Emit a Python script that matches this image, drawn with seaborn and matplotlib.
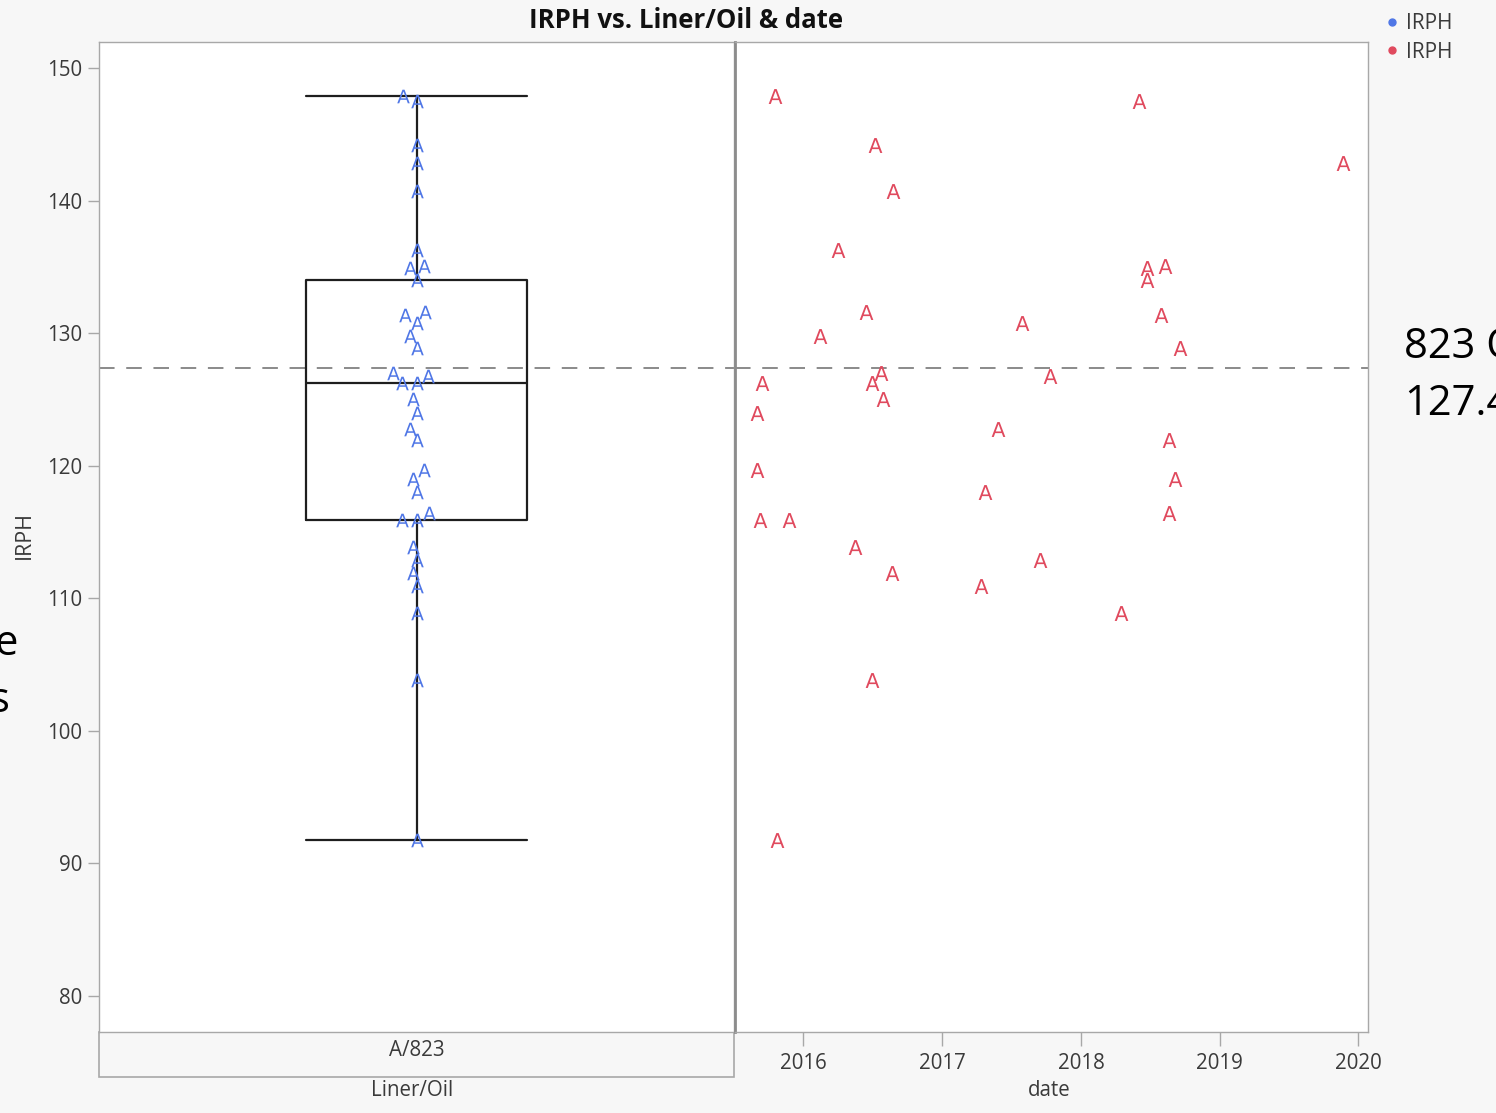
import numpy as np
import pandas as pd
import seaborn as sns
import matplotlib.pyplot as plt
import matplotlib.dates as mdates
from matplotlib.patches import Rectangle
from matplotlib.lines import Line2D

# ---- data -------------------------------------------------------------
dates = [
    "2015-10-19", "2016-07-09", "2016-08-25", "2016-04-01", "2016-02-14",
    "2016-06-13", "2015-09-13", "2015-09-02", "2015-09-02", "2015-09-09",
    "2015-11-24", "2016-05-15", "2016-08-22", "2016-07-01", "2015-10-23",
    "2016-07-01", "2016-07-23", "2016-07-30", "2017-05-27", "2017-04-23",
    "2017-04-13", "2017-07-31", "2017-10-12", "2017-09-16", "2018-04-16",
    "2018-06-03", "2018-06-25", "2018-06-25", "2018-08-11", "2018-07-31",
    "2018-09-20", "2018-08-22", "2018-09-06", "2018-08-22", "2019-11-21",
]
irph = [
    147.9, 144.2, 140.7, 136.3, 129.8,
    131.6, 126.2, 124.0, 119.7, 115.9,
    115.9, 113.9, 111.9, 103.8, 91.8,
    126.2, 127.0, 125.0, 122.8, 118.0,
    110.9, 130.8, 126.8, 112.9, 108.9,
    147.5, 134.9, 134.0, 135.1, 131.4,
    128.9, 121.9, 119.0, 116.4, 142.8,
]
liner_oil = "A/823"
reference_irph = 127.4
y_ticks = [80, 90, 100, 110, 120, 130, 140, 150]

df = pd.DataFrame({
    "date": pd.to_datetime(dates),
    "IRPH": irph,
    "Liner/Oil": liner_oil,
})

# ---- style ------------------------------------------------------------
sns.set_theme(style="white")
plt.rcParams["font.family"] = ["Open Sans", "DejaVu Sans"]
plt.rcParams["mathtext.default"] = "regular"

BG = "#f7f7f7"
FRAME = "#a8a8a8"
TXT = "#3a3a3a"
BLUE = "#5077e6"
RED = "#e04a5e"
A_MARK = r"$\mathsf{A}$"
FS = 14.8

W, H = 1496, 1113
fig = plt.figure(figsize=(W / 100, H / 100), dpi=100, facecolor=BG)

def fx(px):
    return px / W

def fy(py):
    return 1 - py / H

ax_l = fig.add_axes([fx(99), fy(1032), fx(734) - fx(99), fy(42) - fy(1032)])
ax_r = fig.add_axes([fx(735), fy(1032), fx(1368) - fx(735), fy(42) - fy(1032)],
                    sharey=ax_l)
for ax in (ax_l, ax_r):
    ax.set_facecolor("white")
    for s in ax.spines.values():
        s.set_color(FRAME)
        s.set_linewidth(1.0)

# ---- left panel: box plot + swarm of IRPH ------------------------------
vals = np.asarray(irph)
q1, med, q3 = np.percentile(vals, [25, 50, 75], method="weibull")
iqr = q3 - q1
lo = vals[vals >= q1 - 1.5 * iqr].min()
hi = vals[vals <= q3 + 1.5 * iqr].max()
box_w = 0.3465
line_kw = dict(color="#1e1e1e", linewidth=1.6)
ax_l.bxp([dict(med=med, q1=q1, q3=q3, whislo=lo, whishi=hi, fliers=[])],
         positions=[0], widths=box_w, capwidths=[box_w], showfliers=False,
         manage_ticks=False, boxprops=line_kw, whiskerprops=line_kw,
         capprops=line_kw, medianprops=line_kw, zorder=2)

sns.swarmplot(data=df, x="Liner/Oil", y="IRPH", marker=A_MARK, color=BLUE,
              size=9.8, linewidth=0, ax=ax_l, zorder=3)
ax_l.set_xlim(-0.5, 0.5)
ax_l.axhline(reference_irph, color="#8a8a8a", lw=1.4, dashes=(8, 6), zorder=1)

ax_l.set_ylim(77.28, 151.96)
ax_l.set_yticks(y_ticks)
ax_l.tick_params(axis="y", which="both", left=True, length=8, width=1,
                 color=FRAME, labelsize=FS, labelcolor=TXT, pad=4)
ax_l.tick_params(axis="x", length=0, labelsize=FS, labelcolor=TXT, pad=6)
ax_l.set_xlabel("")
ax_l.set_ylabel("")

# ---- right panel: IRPH over date --------------------------------------
sns.scatterplot(data=df, x="date", y="IRPH", marker=A_MARK, color=RED,
                s=115, linewidth=0, ax=ax_r, zorder=3, legend=False)
ax_r.axhline(reference_irph, color="#8a8a8a", lw=1.4, dashes=(8, 6), zorder=1)
ax_r.set_xlim(pd.Timestamp("2015-07-05"), pd.Timestamp("2020-01-27"))
ax_r.xaxis.set_major_locator(mdates.YearLocator())
ax_r.xaxis.set_major_formatter(mdates.DateFormatter("%Y"))
ax_r.tick_params(axis="x", which="both", bottom=True, length=10, width=1,
                 color=FRAME, labelsize=FS, labelcolor=TXT, pad=5)
ax_r.tick_params(axis="y", left=False, labelleft=False)
ax_r.set_xlabel("")
ax_r.set_ylabel("")
ax_r.spines["left"].set_color("#8c8c8c")
ax_r.spines["left"].set_linewidth(2.0)

# category strip under the left panel
fig.add_artist(Rectangle((fx(99), fy(1077)), fx(734) - fx(99), fy(1032) - fy(1077),
                         transform=fig.transFigure, facecolor=BG,
                         edgecolor=FRAME, linewidth=1.2, zorder=0))

# ---- text --------------------------------------------------------------
fig.text(fx(686), fy(21), "IRPH vs. Liner/Oil & date", ha="center", va="center",
         fontsize=18.5, fontweight="bold", color="#111111")
fig.text(fx(24), fy(535), "IRPH", rotation=90, ha="center", va="center",
         fontsize=15.5, color=TXT)
fig.text(fx(412), fy(1090), "Liner/Oil", ha="center", va="center",
         fontsize=FS, color=TXT)
fig.text(fx(1049), fy(1090), "date", ha="center", va="center",
         fontsize=FS, color=TXT)

handles = [Line2D([], [], marker="o", ls="", color=BLUE, markersize=5),
           Line2D([], [], marker="o", ls="", color=RED, markersize=5)]
fig.legend(handles, ["IRPH", "IRPH"], loc="upper left",
           bbox_to_anchor=(fx(1373), fy(5)), frameon=False, fontsize=15,
           labelcolor=TXT, handletextpad=0.2, labelspacing=0.35,
           handlelength=1.0, borderaxespad=0)

fig.text(fx(1404), fy(358), "823 Oil", ha="left", va="baseline",
         fontsize=30, color="#000000")
fig.text(fx(1404), fy(415), "127.4", ha="left", va="baseline",
         fontsize=30, color="#000000")
fig.text(fx(18), fy(655), "e", ha="right", va="baseline",
         fontsize=30, color="#000000")
fig.text(fx(10), fy(712), "s", ha="right", va="baseline",
         fontsize=30, color="#000000")

fig.savefig("out.png", dpi=100, facecolor=BG)
